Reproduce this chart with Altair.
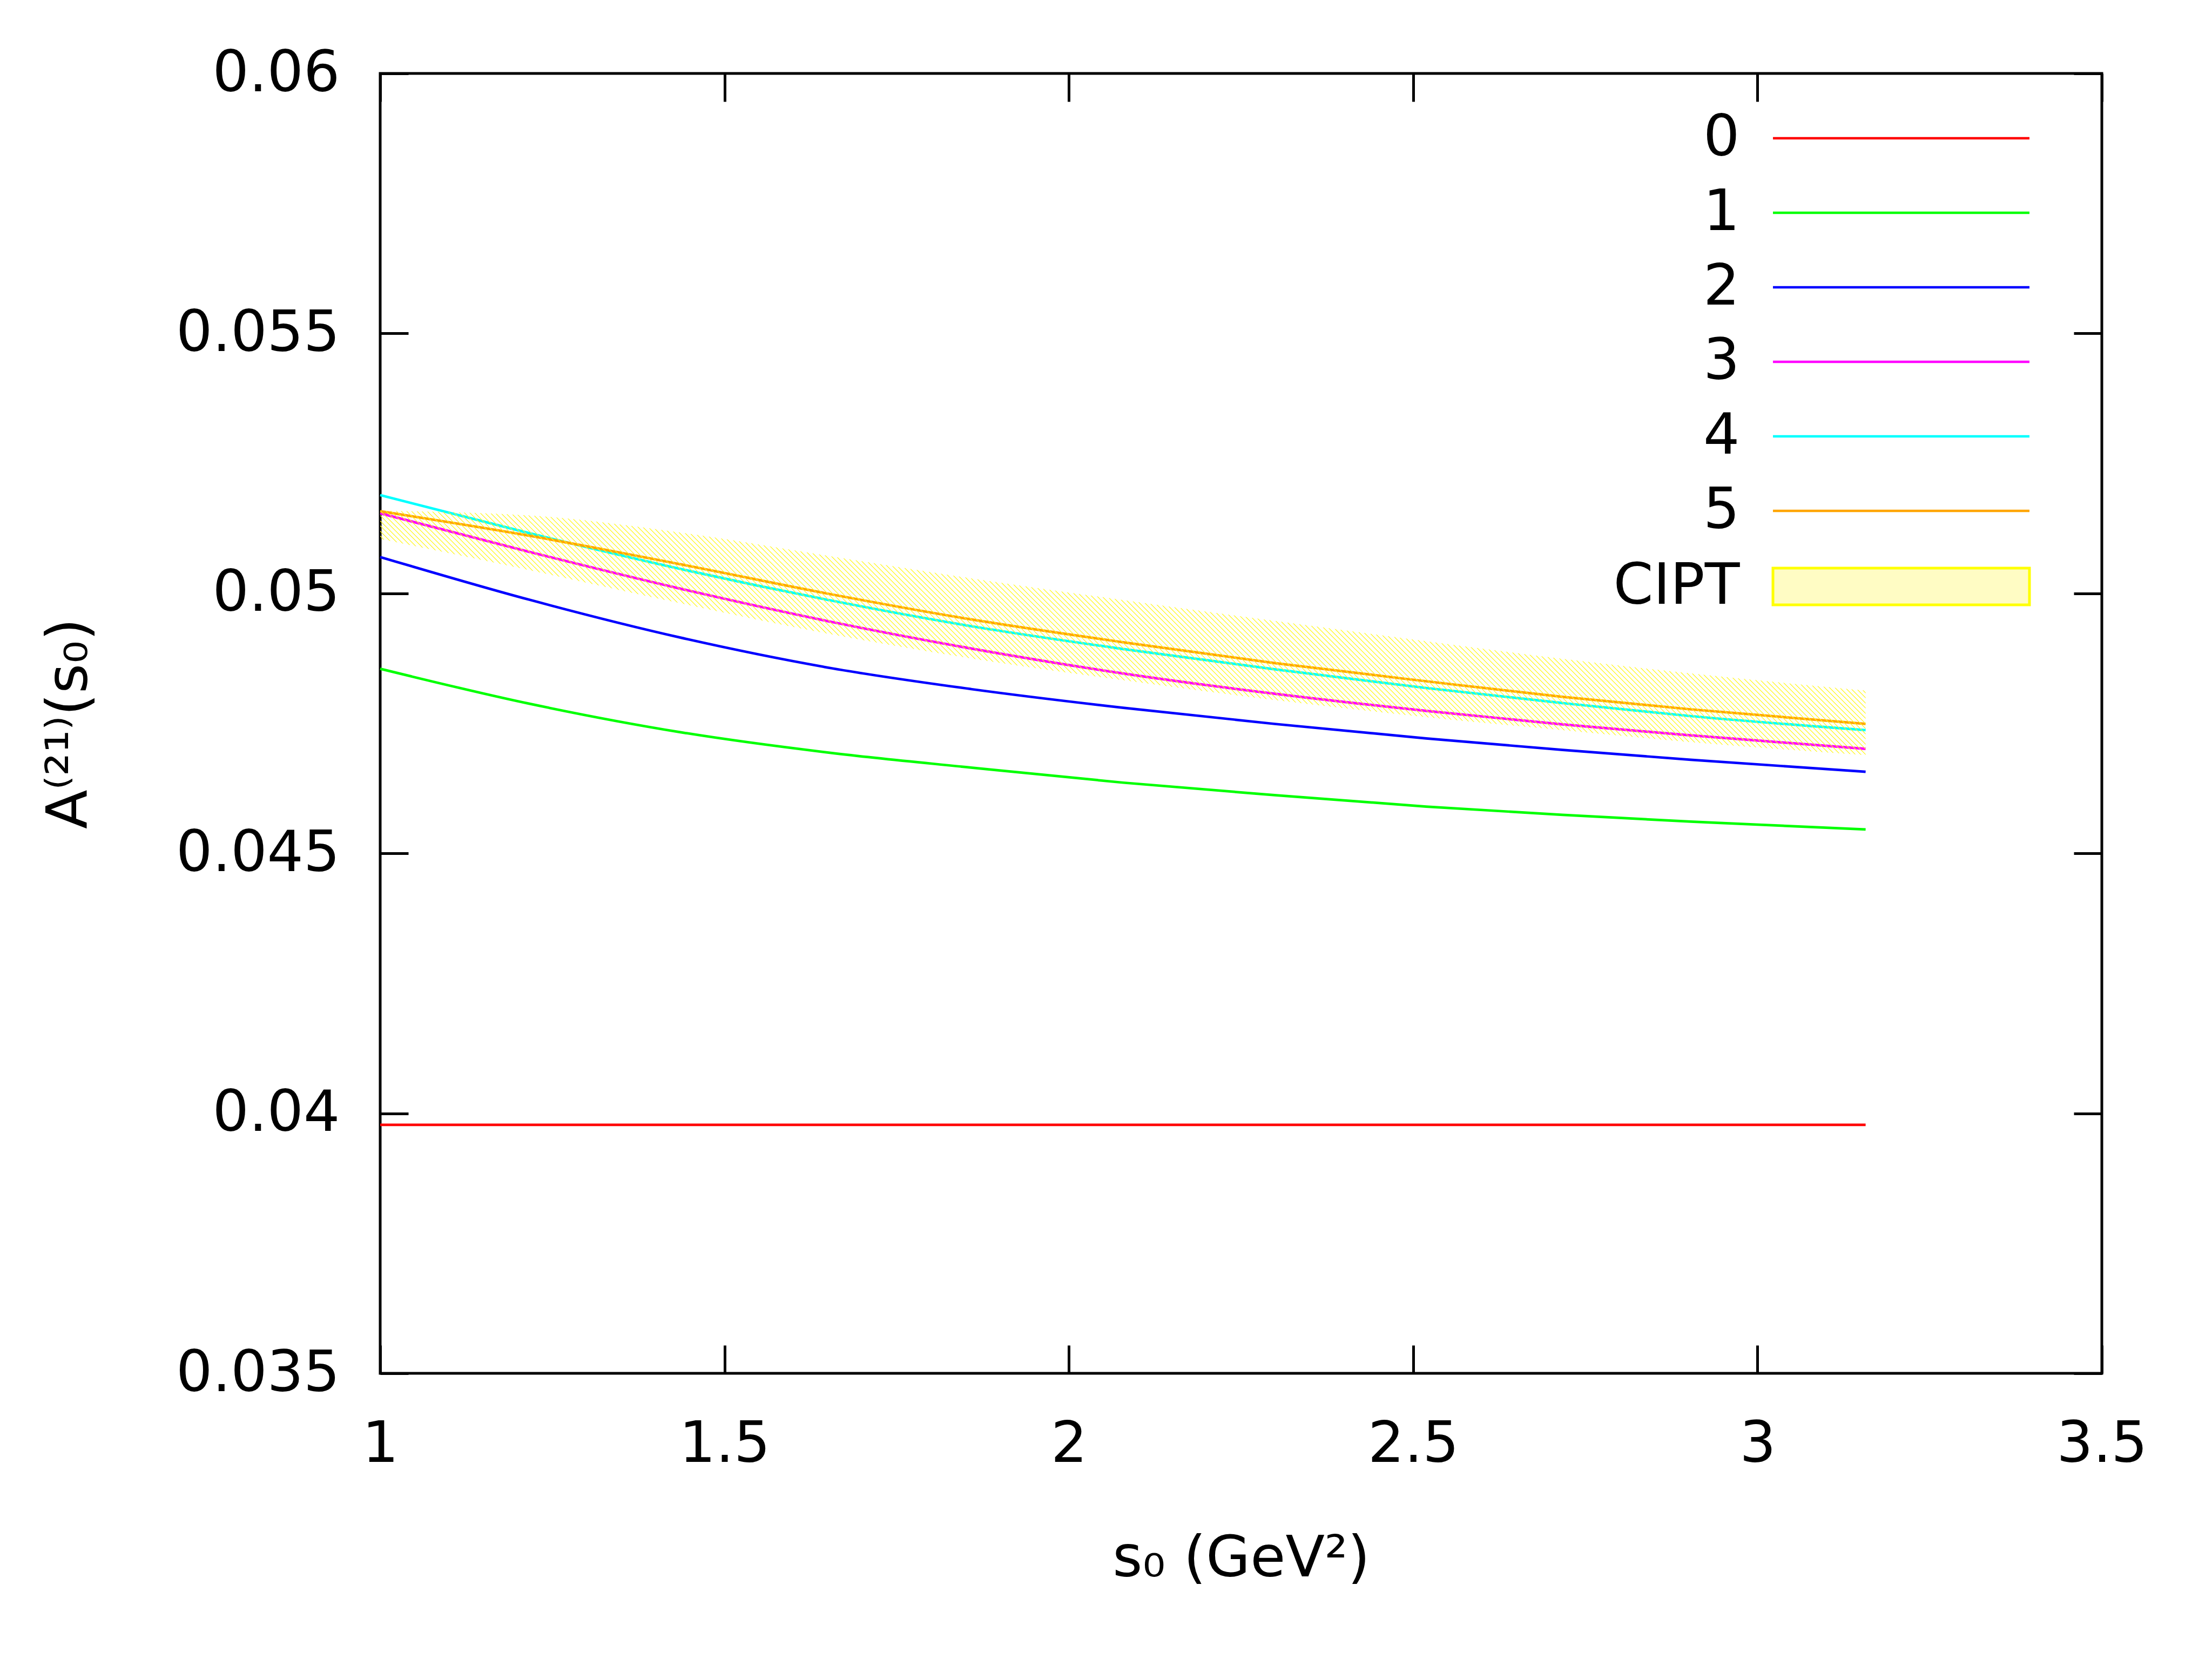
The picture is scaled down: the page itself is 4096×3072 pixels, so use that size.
import math
import altair as alt
import pandas as pd

# ---------------- data ----------------
s0_vals = [1.0, 1.216, 1.436, 1.656, 1.858, 2.079, 2.299, 2.519, 2.717, 2.903, 3.157]

order_0 = [0.03978, 0.03978, 0.03978, 0.03978, 0.03978, 0.03978, 0.03978, 0.03978, 0.03978, 0.03978, 0.03978]
order_1 = [0.04855, 0.04788, 0.04733, 0.04693, 0.04665, 0.04636, 0.04612, 0.04590, 0.04574, 0.04561, 0.04546]
order_2 = [0.05070, 0.04988, 0.04915, 0.04856, 0.04816, 0.04780, 0.04749, 0.04721, 0.04699, 0.04680, 0.04657]
order_3 = [0.05154, 0.05080, 0.05009, 0.04945, 0.04894, 0.04846, 0.04807, 0.04774, 0.04748, 0.04727, 0.04701]
order_4 = [0.05189, 0.05116, 0.05047, 0.04986, 0.04937, 0.04893, 0.04854, 0.04818, 0.04789, 0.04764, 0.04737]
order_5 = [0.05158, 0.05111, 0.05056, 0.04998, 0.04950, 0.04906, 0.04866, 0.04831, 0.04801, 0.04777, 0.04749]

cipt_high = [0.05159, 0.05150, 0.05117, 0.05071, 0.05029, 0.04987, 0.04947, 0.04908, 0.04874, 0.04846, 0.04813]
cipt_low = [0.05105, 0.05045, 0.04981, 0.04921, 0.04875, 0.04833, 0.04795, 0.04762, 0.04737, 0.04714, 0.04689]

series_names = ["0", "1", "2", "3", "4", "5"]
series_vals = [order_0, order_1, order_2, order_3, order_4, order_5]
line_colors = ["#ff0000", "#00ff00", "#0000ff", "#ff00ff", "#00ffff", "#ffa500"]

x_ticks = [1, 1.5, 2, 2.5, 3, 3.5]
y_ticks = [0.035, 0.04, 0.045, 0.05, 0.055, 0.06]

rows = []
for name, vals in zip(series_names, series_vals):
    for xv, yv in zip(s0_vals, vals):
        rows.append({"s0": xv, "A": yv, "order": name})
lines_df = pd.DataFrame(rows)
band_df = pd.DataFrame({"s0": s0_vals, "lo": cipt_low, "hi": cipt_high, "label": ["CIPT"] * len(s0_vals)})

# ---------------- style ----------------
FONT = "DejaVu Sans"
FS = 106
W, H = 3188, 2407
TICK = 52

xscale = alt.Scale(domain=[1, 3.5], nice=False, zero=False)
yscale = alt.Scale(domain=[0.035, 0.06], nice=False, zero=False)

# hatch pattern for the CIPT band, built as a striped linear gradient
px_x = W / 2.5
px_y = H / 0.025
bw = (max(s0_vals) - min(s0_vals)) * px_x
bh = (max(cipt_high) - min(cipt_low)) * px_y
b = -bh / bw
period = (9.5 / bw) / (1 + b * b)
stripe = 0.24 * period
gap_c = "rgba(255,255,255,0)"
ink_c = "rgba(255,246,30,0.85)"
stops = []
n = int(math.ceil(1 / period))
for k in range(n):
    a = k * period
    m = min(1.0, a + period - stripe)
    c = min(1.0, a + period)
    stops.append({"offset": round(min(1.0, a), 6), "color": gap_c})
    stops.append({"offset": round(m, 6), "color": gap_c})
    stops.append({"offset": round(m, 6), "color": ink_c})
    stops.append({"offset": round(c, 6), "color": ink_c})
hatch = {"gradient": "linear", "x1": 0, "y1": round(-b, 4), "x2": 1, "y2": 0, "stops": stops}


def tick_axis(orient, vals):
    return alt.Axis(orient=orient, values=vals, labels=False, domain=False, grid=False,
                    ticks=True, tickSize=TICK, tickWidth=5, tickColor="black",
                    offset=-TICK, title=None)


x_lab = alt.Axis(orient="bottom", values=x_ticks, format="~g", ticks=False, tickSize=0,
                 domain=False, grid=False, labelFontSize=FS, labelFont=FONT, labelColor="black",
                 labelPadding=79, labelFlush=False, labelOverlap=False, labelLimit=0,
                 title="s₀ (GeV²)", titleFontSize=FS, titleFont=FONT, titleFontWeight="normal",
                 titleColor="black", titleBaseline="alphabetic", titleY=375)
y_lab = alt.Axis(orient="left", values=y_ticks, format="~g", ticks=False, tickSize=0,
                 domain=False, grid=False, labelFontSize=FS, labelFont=FONT, labelColor="black",
                 labelPadding=75, labelOverlap=False, labelLimit=0,
                 title="A⁽²¹⁾(s₀)", titleFontSize=FS, titleFont=FONT, titleFontWeight="normal",
                 titleColor="black", titleBaseline="alphabetic", titleX=-544)

# label is pulled back to the left of the sample line
LABEL_SHIFT = {"expr": "-352"}
line_legend = alt.Legend(orient="none", legendX=2403, legendY=67, title=None, padding=0,
                         symbolType="M-10,0H10", symbolSize=2256, symbolStrokeWidth=4.7,
                         symbolOffset=360.5, labelAlign="right", labelOffset=LABEL_SHIFT,
                         labelFontSize=FS, labelFont=FONT, labelColor="black", labelLimit=0,
                         rowPadding=32, symbolOpacity=1)
band_legend = alt.Legend(orient="none", legendX=2403, legendY=897, title=None, padding=0,
                         symbolType="M-10,-1.43H10V1.43H-10Z", symbolSize=2256,
                         symbolStrokeColor="#ffff00", symbolStrokeWidth=5,
                         symbolOffset=360.5, labelAlign="right", labelOffset=LABEL_SHIFT,
                         labelFontSize=FS, labelFont=FONT, labelColor="black", labelLimit=0,
                         symbolOpacity=1)

lines = alt.Chart(lines_df).mark_line(strokeWidth=4.7, interpolate="monotone").encode(
    x=alt.X("s0:Q", scale=xscale, axis=x_lab),
    y=alt.Y("A:Q", scale=yscale, axis=y_lab),
    color=alt.Color("order:N", scale=alt.Scale(domain=series_names, range=line_colors),
                    legend=line_legend),
)

band = alt.Chart(band_df).mark_area(fill=hatch, interpolate="monotone").encode(
    x=alt.X("s0:Q", scale=xscale, axis=tick_axis("bottom", x_ticks)),
    y=alt.Y("lo:Q", scale=yscale, axis=tick_axis("left", y_ticks)),
    y2="hi:Q",
)

key = alt.Chart(band_df).transform_filter("false").mark_square(stroke="#ffff00", strokeWidth=5).encode(
    x=alt.X("s0:Q", scale=xscale, axis=tick_axis("top", x_ticks)),
    y=alt.Y("hi:Q", scale=yscale, axis=tick_axis("right", y_ticks)),
    fill=alt.Fill("label:N", scale=alt.Scale(domain=["CIPT"], range=["#fffcc4"]),
                  legend=band_legend),
)

chart = alt.layer(lines, band, key).resolve_axis(
    x="independent", y="independent"
).properties(
    width=W, height=H,
    autosize=alt.AutoSizeParams(type="none"),
    padding={"left": 696, "top": 128, "right": 196, "bottom": 521},
    background="white",
).configure(
    font=FONT,
    view=alt.ViewConfig(stroke="black", strokeWidth=5),
)

chart.save("out.html", embed_options={"renderer": "svg", "actions": False})
